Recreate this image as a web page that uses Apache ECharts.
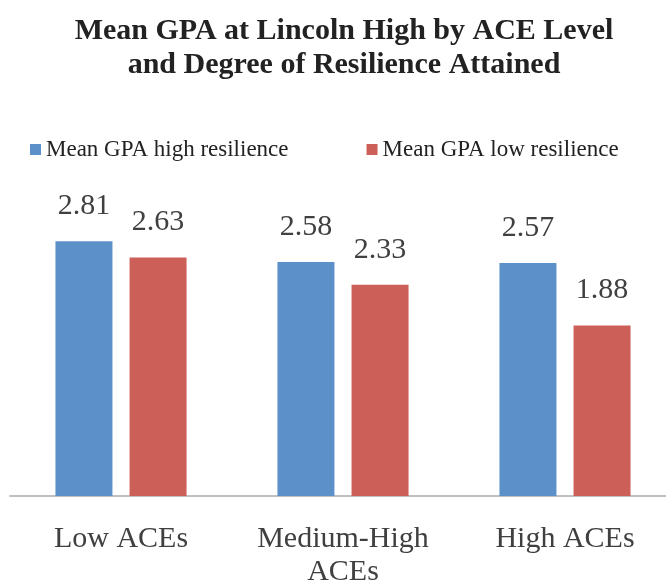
<!DOCTYPE html>
<html>
<head>
<meta charset="utf-8">
<script src="https://cdn.jsdelivr.net/npm/echarts@6/dist/echarts.min.js"></script>
<style>
  html, body { margin: 0; padding: 0; background: #fff; }
  #chart { width: 666px; height: 585px; }
</style>
</head>
<body>
<div id="chart"></div>
<script>
const categories = ['Low ACEs', 'Medium-High\nACEs', 'High ACEs']
const highResilience = [2.81, 2.58, 2.57]
const lowResilience = [2.63, 2.33, 1.88]
const seriesNames = ['Mean GPA high resilience', 'Mean GPA low resilience']

const chart = echarts.init(document.getElementById('chart'))
const serif = '"Liberation Serif", "DejaVu Serif", serif'
const colors = ['#5B90C9', '#CD5F59']

const labelStyle = {
  show: true,
  position: 'top',
  distance: 18,
  fontFamily: serif,
  fontSize: 30,
  lineHeight: 34,
  color: '#404040',
  formatter: p => p.value.toFixed(2)
}

const option = {
  color: colors,
  animation: false,
  title: {
    text: 'Mean GPA at Lincoln High by ACE Level\nand Degree of Resilience Attained',
    left: 344,
    top: 14,
    padding: 0,
    textAlign: 'center',
    textStyle: {
      fontFamily: serif,
      fontWeight: 'bold',
      fontSize: 30,
      lineHeight: 34,
      color: '#222'
    }
  },
  legend: {
    left: 30,
    top: 138,
    padding: 0,
    itemWidth: 11,
    itemHeight: 11,
    itemGap: 78,
    icon: 'rect',
    textStyle: {
      fontFamily: serif,
      fontSize: 23,
      color: '#222'
    },
    data: seriesNames
  },
  grid: {
    left: 10,
    top: 224,
    width: 666,
    height: 272,
    outerBoundsMode: 'none'
  },
  xAxis: {
    type: 'category',
    data: categories,
    axisTick: { show: false },
    axisLine: {
      lineStyle: { color: '#c0c0c0', width: 2 }
    },
    axisLabel: {
      margin: 27,
      fontFamily: serif,
      fontSize: 30,
      lineHeight: 33,
      color: '#404040',
      interval: 0
    }
  },
  yAxis: {
    type: 'value',
    min: 0,
    max: 3,
    show: false,
    splitLine: { show: false }
  },
  series: [
    {
      name: seriesNames[0],
      type: 'bar',
      data: highResilience,
      barWidth: 57,
      barGap: '30%',
      label: labelStyle
    },
    {
      name: seriesNames[1],
      type: 'bar',
      data: lowResilience,
      barWidth: 57,
      label: labelStyle
    }
  ]
}
chart.setOption(option)
</script>
</body>
</html>
